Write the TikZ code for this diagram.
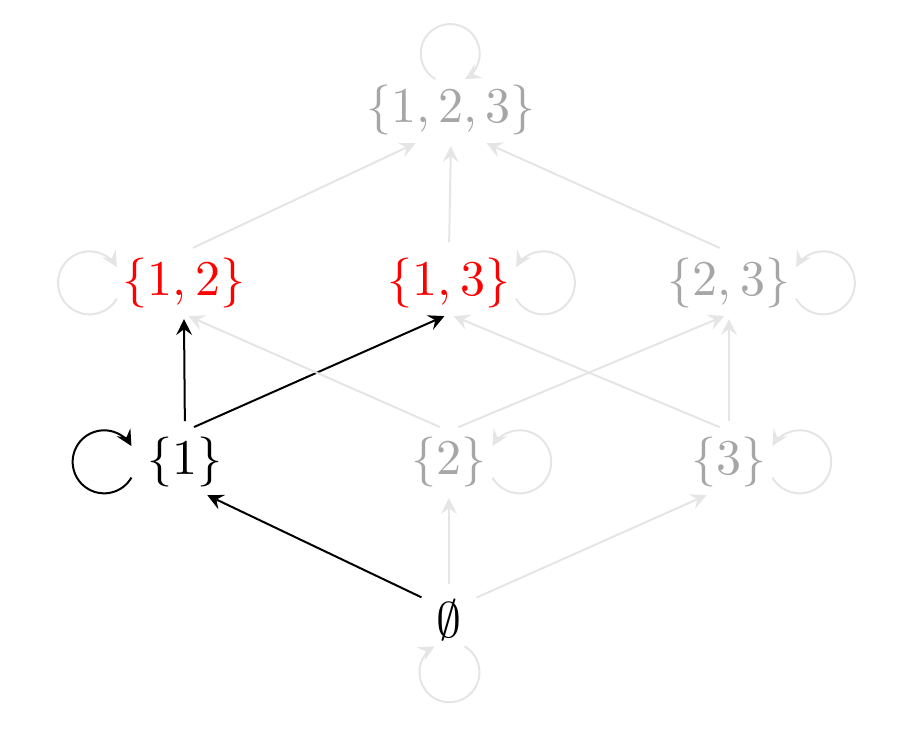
\documentclass[tikz,border=0pt]{standalone}
\usetikzlibrary{arrows}
\begin{document}
\begin{tikzpicture}[>=stealth,
	every node/.style={inner sep=1pt},
	faded/.style={text=black!35},
	picked/.style={text=red},
	dimline/.style={->,draw=black!10},
	mainline/.style={->,draw=black},
	cover/.style={shorten <=2pt,shorten >=1pt}]
	%%%%% START %%%%%
	\useasboundingbox (0,0) rectangle (6.439,5.167);
	
	\node (e) at (3.156,0.808) {$\emptyset$};
	
	\node[inner xsep=3pt] (a) at (1.300,1.919) {$\{1\}$};
	\node[faded] (b) at (3.156,1.919) {$\{2\}$};
	\node[faded] (c) at (5.124,1.919) {$\{3\}$};
	
	\node[picked] (ab) at (1.293,3.177) {$\{1,2\}$};
	\node[picked] (ac) at (3.156,3.177) {$\{1,3\}$};
	\node[faded] (bc) at (5.124,3.177) {$\{2,3\}$};
	
	\node[faded] (abc) at (3.170,4.393) {$\{1,2,3\}$};
	
	% covering edges
	\draw[mainline,cover] (e.135) -- (a.300);
	\draw[dimline,cover] (e.north) -- (b.south);
	\draw[dimline,cover] (e.45) -- (c.240);
	
	\draw[mainline,cover] (a.north) -- (ab.south);
	\draw[mainline,cover] (a.north) -- (ac.south);
	\draw[dimline,cover] (b.north) -- (ab.south);
	\draw[dimline,cover] (b.north) -- (bc.south);
	\draw[dimline,cover] (c.north) -- (ac.south);
	\draw[dimline,cover] (c.north) -- (bc.south);
	
	\draw[dimline,cover] (ab.north) -- (abc.225);
	\draw[dimline,cover] (ac.north) -- (abc.south);
	\draw[dimline,cover] (bc.north) -- (abc.315);
	
	% loops
	\draw[mainline] ([yshift=-3.1pt]a.west) arc[start angle=-30, end angle=-330, radius=6.3pt];
	\draw[dimline] ([yshift=-3.1pt]ab.west) arc[start angle=-30, end angle=-330, radius=6.3pt];
	\draw[dimline] ([yshift=-3.1pt]b.east) arc[start angle=210, end angle=510, radius=6.3pt];
	\draw[dimline] ([yshift=-3.1pt]c.east) arc[start angle=210, end angle=510, radius=6.3pt];
	\draw[dimline] ([yshift=-3.1pt]ac.east) arc[start angle=210, end angle=510, radius=6.3pt];
	\draw[dimline] ([yshift=-3.1pt]bc.east) arc[start angle=210, end angle=510, radius=6.3pt];
	\draw[dimline] ([xshift=-3.1pt]abc.north) arc[start angle=240, end angle=-60, radius=5.9pt];
	\draw[dimline] ([xshift=3.1pt]e.south) arc[start angle=60, end angle=-240, radius=6pt];
	
	%%%%% END %%%%%
\end{tikzpicture}
\end{document}
